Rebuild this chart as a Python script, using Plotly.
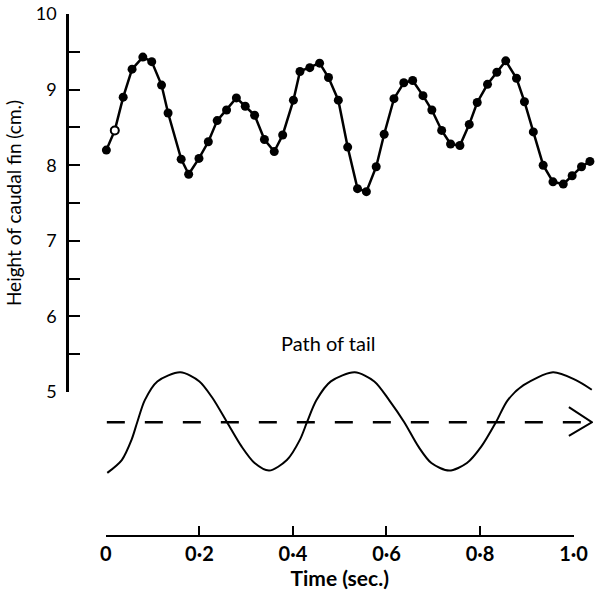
import plotly.graph_objects as go

# Height of caudal fin data (time in sec, height in cm)
time_s = [0.001, 0.019, 0.037, 0.056, 0.079, 0.098, 0.119, 0.133, 0.161, 0.177,
          0.199, 0.219, 0.238, 0.258, 0.279, 0.298, 0.318, 0.339, 0.360, 0.378,
          0.401, 0.415, 0.436, 0.457, 0.476, 0.497, 0.517, 0.538, 0.557, 0.578,
          0.595, 0.616, 0.637, 0.656, 0.678, 0.697, 0.718, 0.737, 0.757, 0.777,
          0.794, 0.816, 0.836, 0.855, 0.878, 0.895, 0.914, 0.935, 0.956, 0.978,
          0.997, 1.017, 1.035]
height_cm = [8.20, 8.46, 8.90, 9.27, 9.43, 9.37, 9.06, 8.69, 8.08, 7.88,
             8.09, 8.31, 8.59, 8.73, 8.89, 8.78, 8.66, 8.34, 8.18, 8.40,
             8.86, 9.24, 9.29, 9.35, 9.16, 8.86, 8.24, 7.69, 7.65, 7.98,
             8.41, 8.88, 9.09, 9.12, 8.92, 8.73, 8.46, 8.28, 8.26, 8.54,
             8.83, 9.07, 9.23, 9.38, 9.15, 8.84, 8.44, 8.00, 7.78, 7.75,
             7.86, 7.98, 8.05]
open_index = 1  # the open-circle point

# Path of tail (drawn curve)
path_t = [0.003, 0.034, 0.055, 0.067, 0.083, 0.110, 0.159, 0.200, 0.228, 0.259,
          0.290, 0.318, 0.349, 0.387, 0.415, 0.430, 0.450, 0.481, 0.532, 0.574,
          0.606, 0.638, 0.668, 0.696, 0.734, 0.772, 0.803, 0.834, 0.859, 0.893,
          0.956, 1.004, 1.039]
path_v = [3.93, 4.10, 4.37, 4.60, 4.89, 5.14, 5.26, 5.14, 4.92, 4.60,
          4.28, 4.06, 3.96, 4.10, 4.37, 4.60, 4.89, 5.14, 5.26, 5.14,
          4.89, 4.60, 4.28, 4.06, 3.96, 4.06, 4.28, 4.60, 4.89, 5.09,
          5.26, 5.16, 5.03]
# Direction line (dashed) and arrowhead
dir_t = [0.002, 1.039]
dir_v = [4.60, 4.60]
arrow_t = [0.990, 1.039, 0.990]
arrow_v = [4.80, 4.60, 4.42]

x_ticks = [0, 0.2, 0.4, 0.6, 0.8, 1.0]
x_ticktext = ["0", "0·2", "0·4", "0·6", "0·8", "1·0"]
y_ticks = [5, 6, 7, 8, 9, 10]
y_minor = [5.5, 6.5, 7.5, 8.5, 9.5]

FONT = "Lato"
W, H = 608, 596
ML, MR, MT, MB = 67, 0, 14, 60
PW = W - ML - MR
PH = H - MT - MB
X0_PX = 40          # offset of t=0 from y-axis line
PX_PER_T = 481
Y5_PX = 392 - MT    # px from top for value 5
PX_PER_V = 75.6

fig = go.Figure()

# empty trace to host the visible x axis
fig.add_trace(go.Scatter(x=[], y=[], xaxis="x", yaxis="y2", showlegend=False))

fig.add_trace(go.Scatter(
    x=time_s, y=height_cm, xaxis="x2", yaxis="y", mode="lines+markers",
    line=dict(color="black", width=2.5),
    marker=dict(color="black", size=9),
    cliponaxis=False, showlegend=False))
fig.add_trace(go.Scatter(
    x=[time_s[open_index]], y=[height_cm[open_index]], xaxis="x2", yaxis="y",
    mode="markers",
    marker=dict(color="white", size=8, line=dict(color="black", width=2)),
    cliponaxis=False, showlegend=False))

fig.add_trace(go.Scatter(
    x=path_t, y=path_v, xaxis="x2", yaxis="y2", mode="lines",
    line=dict(color="black", width=2, shape="spline", smoothing=0.8),
    showlegend=False))
fig.add_trace(go.Scatter(
    x=dir_t, y=dir_v, xaxis="x2", yaxis="y2", mode="lines",
    line=dict(color="black", width=2.5, dash="18px,20px"),
    showlegend=False))
fig.add_trace(go.Scatter(
    x=arrow_t, y=arrow_v, xaxis="x2", yaxis="y2", mode="lines",
    line=dict(color="black", width=2),
    showlegend=False))

fig.add_annotation(x=0.474, y=5.65, xref="x2", yref="y2", text="Path of tail",
                   showarrow=False, font=dict(family=FONT, size=20, color="black"))

xd0 = X0_PX / PW
fig.update_layout(
    width=W, height=H,
    margin=dict(l=ML, r=MR, t=MT, b=MB),
    paper_bgcolor="white", plot_bgcolor="rgba(0,0,0,0)",
    font=dict(family=FONT, color="black"),
    xaxis=dict(
        domain=[xd0, (X0_PX + PX_PER_T) / PW], range=[0, 1],
        anchor="free", position=0,
        showline=True, linecolor="black", linewidth=2,
        ticks="inside", ticklen=9, tickwidth=2, tickcolor="black",
        tickvals=x_ticks, ticktext=x_ticktext,
        tickfont=dict(family=FONT, size=20, color="black", weight="bold"),
        showgrid=False, zeroline=False,
        title=dict(text="Time (sec.)", standoff=2,
                   font=dict(family=FONT, size=21, color="black", weight="bold")),
    ),
    xaxis2=dict(
        domain=[xd0, 1], range=[0, (PW - X0_PX) / PX_PER_T],
        anchor="free", position=0, visible=False,
    ),
    yaxis=dict(
        domain=[(PH - Y5_PX) / PH, 1], range=[5, 10],
        anchor="free", position=0,
        showline=True, linecolor="black", linewidth=2.5,
        ticks="inside", ticklen=11, tickwidth=2, tickcolor="black",
        tickvals=y_ticks,
        minor=dict(ticks="inside", ticklen=11, tickwidth=2, tickcolor="black",
                   tickvals=y_minor, showgrid=False),
        tickfont=dict(family=FONT, size=18, color="black"),
        ticklabelstandoff=6,
        showgrid=False, zeroline=False,
        title=dict(text="Height of caudal fin (cm.)", standoff=8,
                   font=dict(family=FONT, size=19, color="black")),
    ),
    yaxis2=dict(
        domain=[0, 1], range=[10 - PH / PX_PER_V, 10],
        anchor="free", position=0, visible=False,
    ),
)

fig.write_html("out.html", config={"displayModeBar": False},
               post_script="document.body.style.margin='0';")
